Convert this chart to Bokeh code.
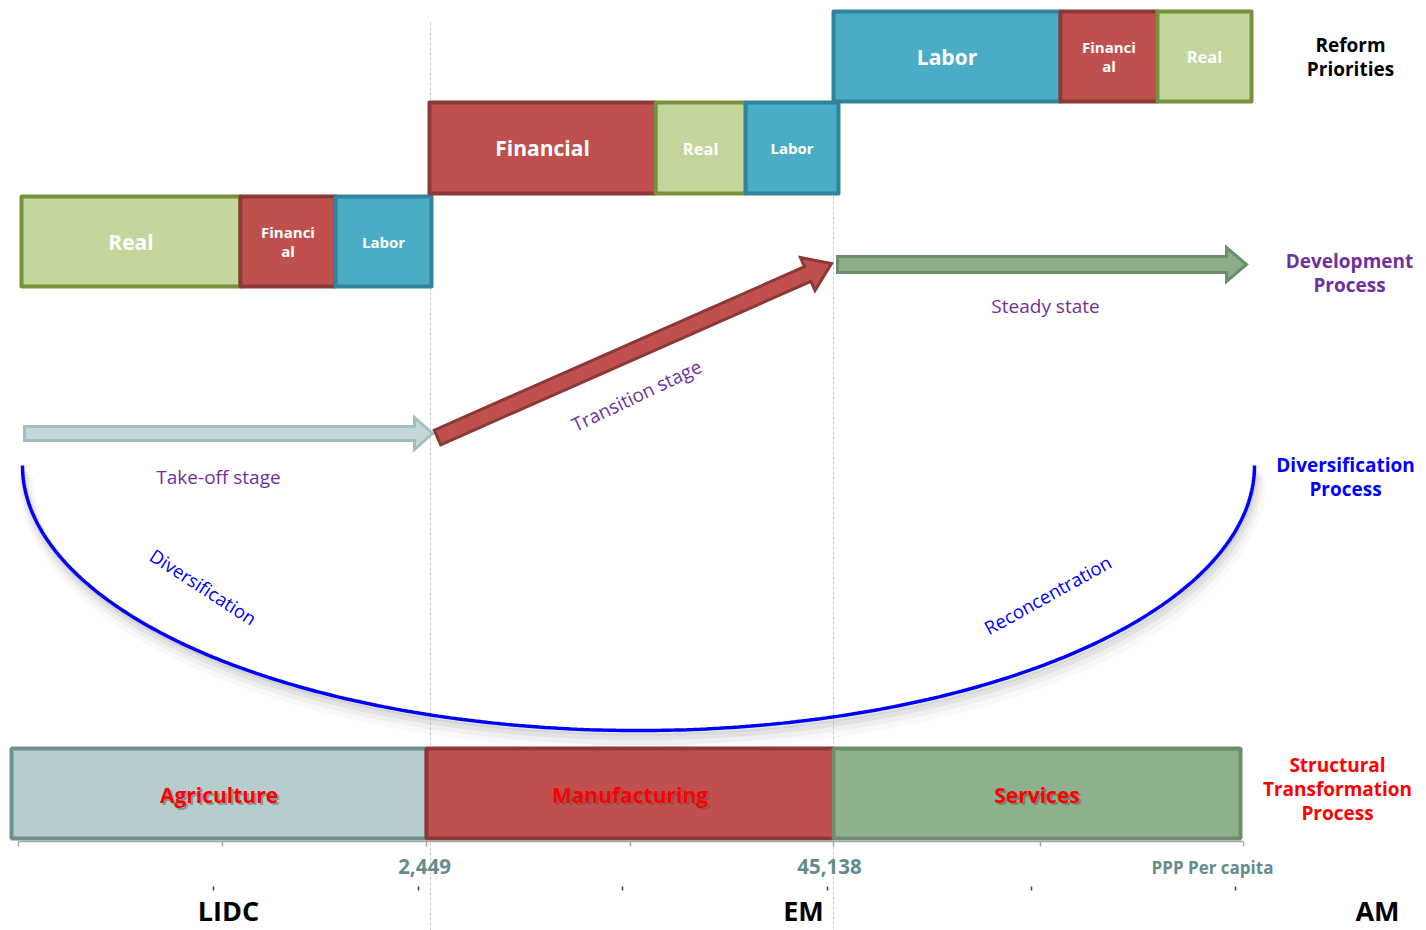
import numpy as np
from bokeh.plotting import figure
from bokeh.models import Range1d
from bokeh.embed import file_html
from bokeh.resources import INLINE
from bokeh.core.properties import value

# ---------------- data ----------------
stage_names = ["LIDC", "EM", "AM"]
threshold_labels = ["2,449", "45,138"]
axis_title = "PPP Per capita"
sector_names = ["Agriculture", "Manufacturing", "Services"]
reform_order = [["Real", "Financial", "Labor"],
                ["Financial", "Real", "Labor"],
                ["Labor", "Financial", "Real"]]
reform_display = [["Real", "Financi\nal", "Labor"],
                  ["Financial", "Real", "Labor"],
                  ["Labor", "Financi\nal", "Real"]]
reform_shares = [[0.534, 0.232, 0.234],
                 [0.553, 0.220, 0.227],
                 [0.543, 0.232, 0.225]]
dev_stage_labels = ["Take-off stage", "Transition stage", "Steady state"]
diversification_labels = ["Diversification", "Reconcentration"]
row_titles = [["Reform", "Priorities"], ["Development", "Process"],
              ["Diversification", "Process"],
              ["Structural", "Transformation", "Process"]]

# ---------------- layout / style ----------------
FONT = "Open Sans"
W, H = 1426, 930
fills = {"Real": "#C3D69B", "Financial": "#C0504D", "Labor": "#4BACC6"}
edges = {"Real": "#76923C", "Financial": "#8C3836", "Labor": "#31849B"}
sector_fill = ["#B7CDCD", "#C0504D", "#8FB08C"]
sector_edge = ["#6F9090", "#8C3836", "#6E8D6C"]
reform_rows = [(21, 431, 196, 286), (429, 838, 102, 193), (833, 1251, 11, 101)]
sector_row = (11, 1240, 748, 838)
boundaries_x = [430, 833]

p = figure(width=W, height=H, x_range=Range1d(0, W), y_range=Range1d(H, 0),
           output_backend="svg", toolbar_location=None, min_border=0,
           x_axis_location=None, y_axis_location=None)
p.grid.visible = False
p.outline_line_color = None
p.background_fill_color = "white"
p.border_fill_color = "white"

# vertical dotted separators
p.segment(x0=boundaries_x, y0=[22, 11], x1=boundaries_x, y1=[H, H],
          line_color="#C8C8C8", line_width=1, line_dash="3 2")

# ---------------- reform priority boxes ----------------
ql, qr, qt, qb, qf, qe = [], [], [], [], [], []
tx, ty, tt, ts = [], [], [], []
for (x0, x1, y0, y1), names, disp, shares in zip(reform_rows, reform_order,
                                                  reform_display, reform_shares):
    span = x1 - x0
    cum = x0
    for i, (nm, d, s) in enumerate(zip(names, disp, shares)):
        left, right = cum, cum + s * span
        cum = right
        ql.append(left); qr.append(right); qt.append(y0); qb.append(y1)
        qf.append(fills[nm]); qe.append(edges[nm])
        lines = d.split("\n")
        cx = (left + right) / 2
        cy = (y0 + y1) / 2
        if i == 0:
            size = "21px"
        elif len(lines) > 1:
            size = "15px"
        elif nm == "Real":
            size = "16.5px"
        else:
            size = "15px"
        n = len(lines)
        for k, ln in enumerate(lines):
            tx.append(cx); ty.append(cy + (k - (n - 1) / 2) * 19.5)
            tt.append(ln); ts.append(size)

p.quad(left=ql, right=qr, top=qt, bottom=qb, fill_color=qf, line_color=qe,
       line_width=4, line_join="round")
p.text(x=tx, y=ty, text=tt, text_font_size=ts, text_color="white",
       text_font=value(FONT), text_font_style="bold",
       text_align="center", text_baseline="middle")

# ---------------- development arrows ----------------
def arrow_poly(x0, y0, x1, y1, sw, hw, hl):
    d = np.array([x1 - x0, y1 - y0], dtype=float)
    L = np.hypot(*d)
    u = d / L
    n = np.array([-u[1], u[0]])
    s = np.array([x0, y0]); e = np.array([x1, y1])
    neck = e - u * hl
    pts = [s + n * sw / 2, neck + n * sw / 2, neck + n * hw / 2, e,
           neck - n * hw / 2, neck - n * sw / 2, s - n * sw / 2]
    return [pt[0] for pt in pts], [pt[1] for pt in pts]

arrows = [((24, 433, 432, 433), 14, 32, 18, "#C5D6D9", "#A3BEC2"),
          ((437, 437, 831, 263), 16, 36, 26, "#C0504D", "#8C3836"),
          ((837, 264, 1246, 264), 16, 34, 20, "#8DAD8A", "#6E8D6C")]
for (x0, y0, x1, y1), sw, hw, hl, fc, ec in arrows:
    xs, ys = arrow_poly(x0, y0, x1, y1, sw, hw, hl)
    p.patch(xs, ys, fill_color=fc, line_color=ec, line_width=3, line_join="miter")

p.text(x=[218, 636, 1045], y=[476, 395, 305], text=dev_stage_labels,
       angle=[0, np.deg2rad(25.5), 0], text_color="#7030A0",
       text_font=value(FONT), text_font_size="19px",
       text_align="center", text_baseline="middle")

# ---------------- diversification curve ----------------
t = np.linspace(0, np.pi, 300)
cx, a, cy, b = 638, 616, 465, 265
xs = cx - a * np.cos(t)
ys = cy + b * np.sin(t)
for off, lw, al in [(12, 16, 0.05), (9, 11, 0.08), (6, 7, 0.12), (3, 4, 0.15)]:
    p.line(xs + off * 0.3, ys + off, line_color="#808080", line_width=lw, line_alpha=al)
p.line(xs, ys, line_color="#0000FF", line_width=3.5)
p.text(x=[203, 1047], y=[586, 594], text=diversification_labels,
       angle=[np.deg2rad(-33), np.deg2rad(29)], text_color="#0000FF",
       text_font=value(FONT), text_font_size="18.5px",
       text_align="center", text_baseline="middle")

# ---------------- structural transformation boxes ----------------
sx0, sx1, sy0, sy1 = sector_row
edges_x = [sx0, 426, 833, sx1]
p.quad(left=edges_x[:-1], right=edges_x[1:], top=[sy0] * 3, bottom=[sy1] * 3,
       fill_color=sector_fill, line_color=sector_edge, line_width=4)
scx = [(edges_x[i] + edges_x[i + 1]) / 2 for i in range(3)]
scy = [(sy0 + sy1) / 2 + 1] * 3
p.text(x=[c + 2 for c in scx], y=[c + 2 for c in scy], text=sector_names,
       text_color="#505050", text_alpha=0.45, text_font=value(FONT),
       text_font_size="21px", text_font_style="bold",
       text_align="center", text_baseline="middle")
p.text(x=scx, y=scy, text=sector_names, text_color="#FF0000",
       text_font=value(FONT), text_font_size="21px", text_font_style="bold",
       text_align="center", text_baseline="middle")

# ---------------- bottom axis ----------------
ticks = [18, 222, 426, 630, 833, 1040, 1243]
p.line([18, 1243], [841, 841], line_color="#A6A6A6", line_width=1.5)
p.segment(x0=ticks, y0=[841] * 7, x1=ticks, y1=[846] * 7,
          line_color="#A6A6A6", line_width=1.5)
dots = [213, 418, 622, 827, 1031, 1235]
p.segment(x0=dots, y0=[886] * 6, x1=dots, y1=[890] * 6,
          line_color="#404040", line_width=1.5)
p.text(x=[424, 829], y=[866, 866], text=threshold_labels, text_color="#658C8C",
       text_font=value(FONT), text_font_size="20.5px", text_font_style="bold",
       text_align="center", text_baseline="middle")
p.text(x=[1212], y=[867], text=[axis_title], text_color="#658C8C",
       text_font=value(FONT), text_font_size="17px", text_font_style="bold",
       text_align="center", text_baseline="middle")
p.text(x=[228, 803, 1377], y=[910, 910, 910], text=stage_names,
       text_color="black", text_font=value(FONT), text_font_size="27px",
       text_font_style="bold", text_align="center", text_baseline="middle")

# ---------------- row titles ----------------
title_pos = [(1350, 44, "black"), (1349, 260, "#7030A0"),
             (1345, 464, "#0000FF"), (1337, 764, "#FF0000")]
rx, ry, rt, rc = [], [], [], []
for (x, y, c), lines in zip(title_pos, row_titles):
    for k, ln in enumerate(lines):
        rx.append(x); ry.append(y + 24 * k); rt.append(ln); rc.append(c)
p.text(x=rx, y=ry, text=rt, text_color=rc, text_font=value(FONT),
       text_font_size="19px", text_font_style="bold",
       text_align="center", text_baseline="middle")

open("out.html", "w").write(file_html(p, INLINE))
